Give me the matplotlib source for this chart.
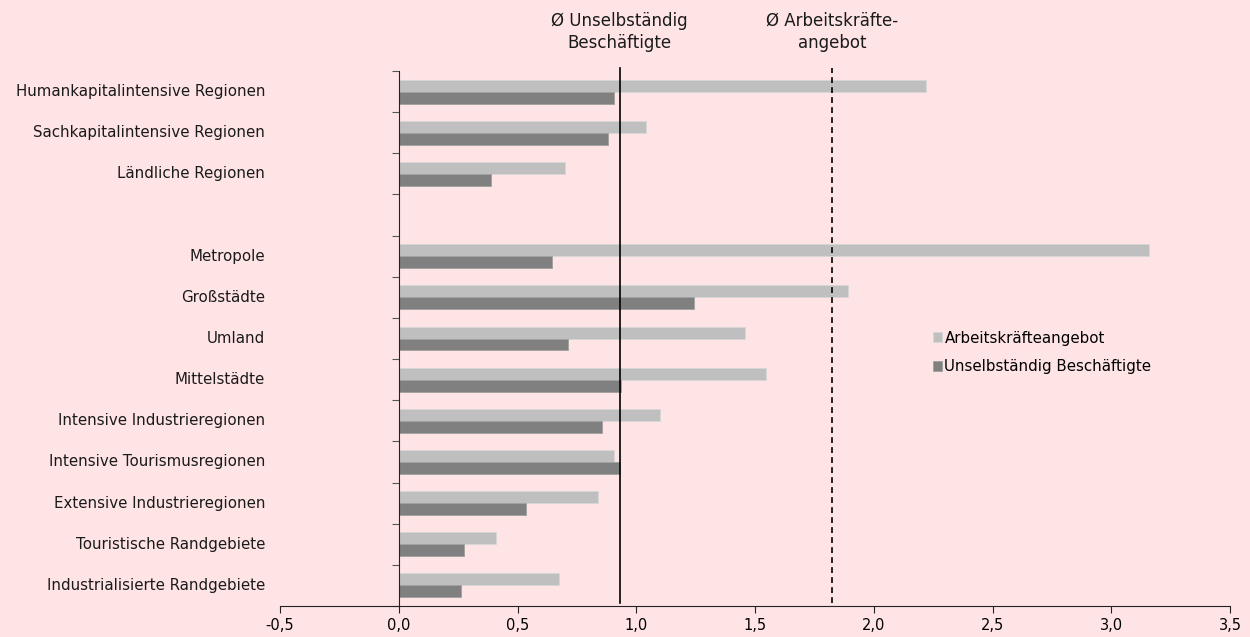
import numpy as np
import matplotlib
matplotlib.use("Agg")
import matplotlib.pyplot as plt
import matplotlib.transforms as mtransforms

# ================================
# Data
# ================================

categories = [
    "Humankapitalintensive Regionen",
    "Sachkapitalintensive Regionen",
    "Ländliche Regionen",
    "",
    "Metropole",
    "Großstädte",
    "Umland",
    "Mittelstädte",
    "Intensive Industrieregionen",
    "Intensive Tourismusregionen",
    "Extensive Industrieregionen",
    "Touristische Randgebiete",
    "Industrialisierte Randgebiete",
]
arbeitskraefte = [2.22, 1.04, 0.70, np.nan, 3.16, 1.89, 1.456, 1.545, 1.10, 0.906, 0.84, 0.41, 0.675]
beschaeftigte = [0.908, 0.88, 0.39, np.nan, 0.645, 1.245, 0.713, 0.937, 0.857, 0.931, 0.534, 0.274, 0.26]

avg_beschaeftigte = 0.93
avg_arbeitskraefte = 1.826

xticks = [-0.5, 0.0, 0.5, 1.0, 1.5, 2.0, 2.5, 3.0, 3.5]

BG = "#FFE4E6"
LIGHT = "#BFBFBF"
DARK = "#808080"

plt.rcParams["font.family"] = ["DejaVu Sans"]

# ================================
# Plot
# ================================

fig = plt.figure(figsize=(12.5, 6.37), dpi=100, facecolor=BG)
ax = fig.add_axes([0.224, 0.0487, 0.76, 0.8398])
ax.set_facecolor(BG)

y = np.arange(len(categories))
h = 0.29
ax.barh(y - h / 2, arbeitskraefte, height=h, color=LIGHT, edgecolor="#D6D6D6",
        linewidth=0.6, label="Arbeitskräfteangebot")
ax.barh(y + h / 2, beschaeftigte, height=h, color=DARK, edgecolor="#A0A0A0",
        linewidth=0.6, label="Unselbständig Beschäftigte")

ax.set_xlim(-0.5, 3.5)
ax.set_ylim(len(categories) - 0.5, -0.5)

# reference lines
ax.axvline(avg_beschaeftigte, ymin=0.005, ymax=1.006, color="black", lw=1.2, clip_on=False)
ax.axvline(avg_arbeitskraefte, ymin=0.005, ymax=1.006, color="black", lw=1.2,
           ls=(0, (3.5, 2.5)), clip_on=False)

ax.text(avg_beschaeftigte, 1.073, "Ø Unselbständig\nBeschäftigte", transform=ax.get_xaxis_transform(),
        ha="center", va="center", fontsize=12, linespacing=1.3, color="#1a1a1a")
ax.text(avg_arbeitskraefte, 1.073, "Ø Arbeitskräfte-\nangebot", transform=ax.get_xaxis_transform(),
        ha="center", va="center", fontsize=12, linespacing=1.3, color="#1a1a1a")

# axes styling
for side in ["top", "right"]:
    ax.spines[side].set_visible(False)
ax.spines["left"].set_position(("data", 0))
ax.spines["left"].set_color("#222222")
ax.spines["bottom"].set_color("#222222")

ax.set_yticks(np.arange(-0.5, len(categories), 1.0))
ax.set_yticklabels([])
ax.tick_params(axis="y", length=5, direction="out", color="#555555")

ax.set_xticks(xticks)
ax.set_xticklabels([f"{t:.1f}".replace(".", ",") for t in xticks], fontsize=10.5)
ax.tick_params(axis="x", length=5, direction="out", color="#222222", pad=4)

# category labels on the left
trans = mtransforms.blended_transform_factory(fig.transFigure, ax.transData)
for i, lab in enumerate(categories):
    ax.text(265 / 1250, i, lab, transform=trans, ha="right", va="center",
            fontsize=10.8, color="#1a1a1a")

ax.legend(loc="center left", bbox_to_anchor=(0.746, 0.447), bbox_transform=fig.transFigure,
          frameon=False, fontsize=10.8, handlelength=0.65, handleheight=0.65,
          handletextpad=0.15, labelspacing=0.9, borderaxespad=0, borderpad=0)

fig.savefig("out.png", dpi=100, facecolor=BG)
